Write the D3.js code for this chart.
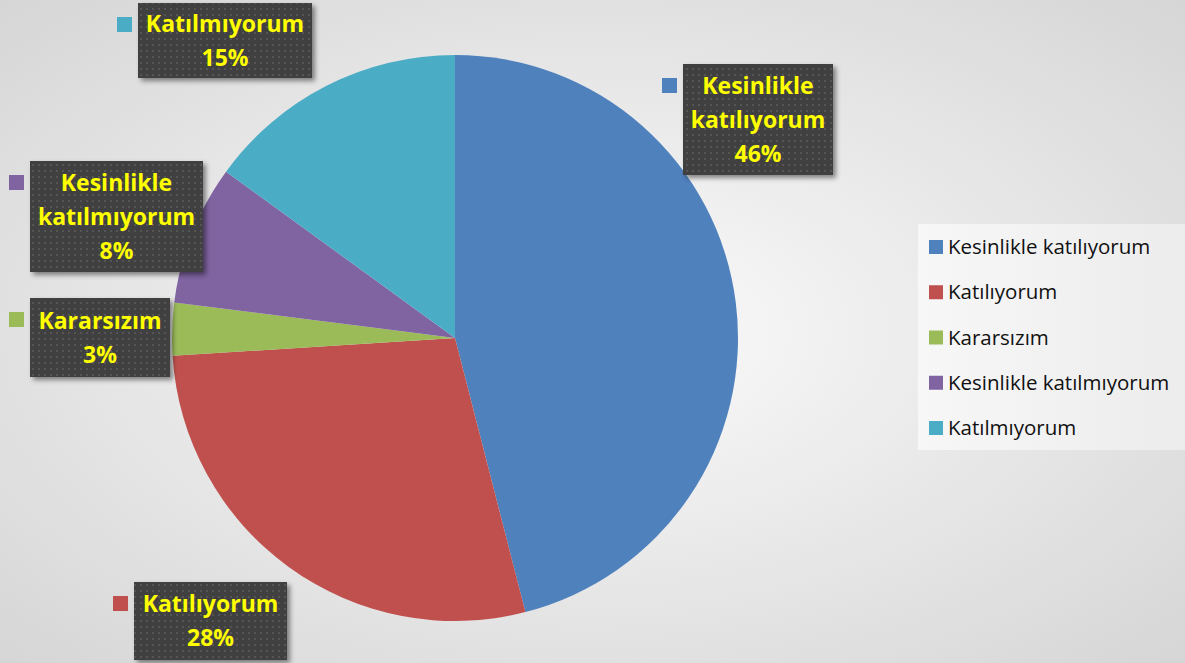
<!DOCTYPE html>
<html>
<head>
<meta charset="utf-8">
<script src="https://cdn.jsdelivr.net/npm/d3@7"></script>
<style>
  html,body{margin:0;padding:0;overflow:hidden;}
  svg{display:block;}
</style>
</head>
<body>
<svg id="chart" width="1185" height="663"></svg>
<script>
// ── data ──
const categories=["Kesinlikle katılıyorum","Katılıyorum","Kararsızım","Kesinlikle katılmıyorum","Katılmıyorum"];
const values=[46,28,3,8,15];
const labelLines=[["Kesinlikle","katılıyorum"],["Katılıyorum"],["Kararsızım"],["Kesinlikle","katılmıyorum"],["Katılmıyorum"]];
const colors=["#4F81BD","#C0504D","#9BBB59","#8064A2","#4BACC6"];

// ── layout (hand-placed label boxes, like the original) ──
const W=1185,H=663,cx=455,cy=338,R=283;
const boxes=[
  {x:683,y:64,w:150,h:111},
  {x:134,y:582,w:153,h:78},
  {x:30,y:298,w:140,h:79},
  {x:30,y:161,w:173,h:111},
  {x:138,y:3,w:174,h:75}
];
const FONT="'Open Sans', Lato, sans-serif";

const svg=d3.select("#chart");
const defs=svg.append("defs");
const bg=defs.append("radialGradient").attr("id","bg").attr("cx","50%").attr("cy","50%").attr("r","70%");
bg.append("stop").attr("offset","0%").attr("stop-color","#fbfbfb");
bg.append("stop").attr("offset","100%").attr("stop-color","#d6d6d6");
const pat=defs.append("pattern").attr("id","dots").attr("width",6).attr("height",6).attr("patternUnits","userSpaceOnUse");
pat.append("rect").attr("width",6).attr("height",6).attr("fill","#404040");
pat.append("rect").attr("x",2).attr("y",2).attr("width",2).attr("height",2).attr("fill","#555555");
const sh=defs.append("filter").attr("id","sh").attr("x","-10%").attr("y","-10%").attr("width","130%").attr("height","130%");
sh.append("feDropShadow").attr("dx",3).attr("dy",3).attr("stdDeviation",2.5).attr("flood-color","#000").attr("flood-opacity",0.45);
const lg=defs.append("linearGradient").attr("id","lg").attr("x1","0").attr("x2","1");
lg.append("stop").attr("offset","0%").attr("stop-color","#f7f7f7");
lg.append("stop").attr("offset","100%").attr("stop-color","#ececec");

svg.append("rect").attr("width",W).attr("height",H).attr("fill","url(#bg)");

// ── pie ──
const pie=d3.pie().sort(null).value(d=>d)(values);
const arc=d3.arc().innerRadius(0).outerRadius(R);
svg.append("g").attr("transform",`translate(${cx},${cy})`)
  .selectAll("path").data(pie).join("path")
  .attr("d",arc).attr("fill",(d,i)=>colors[i]);

// ── data labels ──
const lab=svg.append("g").selectAll("g").data(pie).join("g");
lab.append("rect").attr("x",(d,i)=>boxes[i].x).attr("y",(d,i)=>boxes[i].y)
  .attr("width",(d,i)=>boxes[i].w).attr("height",(d,i)=>boxes[i].h)
  .attr("fill","url(#dots)").attr("filter","url(#sh)");
lab.append("rect").attr("x",(d,i)=>boxes[i].x-21).attr("y",(d,i)=>boxes[i].y+14)
  .attr("width",15).attr("height",15).attr("fill",(d,i)=>colors[i]);
lab.each(function(d,i){
  const b=boxes[i],lines=[...labelLines[i],d.data+"%"];
  const lh=34,top=b.y+b.h/2-(lines.length-1)*lh/2;
  d3.select(this).append("text")
    .attr("font-family",FONT).attr("font-weight","bold")
    .attr("font-size",23).attr("fill","#FFFF00").attr("text-anchor","middle")
    .selectAll("tspan").data(lines).join("tspan")
    .attr("x",b.x+b.w/2).attr("y",(t,j)=>top+j*lh).attr("dy","0.35em").text(t=>t);
});

// ── legend ──
const leg=svg.append("g");
leg.append("rect").attr("x",918).attr("y",224).attr("width",267).attr("height",226).attr("fill","url(#lg)");
const y=d3.scalePoint().domain(categories).range([247,428]);
const li=leg.selectAll("g").data(categories).join("g").attr("transform",d=>`translate(929,${y(d)})`);
li.append("rect").attr("x",0).attr("y",-7).attr("width",14).attr("height",14).attr("fill",(d,i)=>colors[i]);
li.append("text").attr("x",19).attr("dy","0.35em")
  .attr("font-family",FONT).attr("font-size",20.5).attr("fill","#111").text(d=>d);
</script>
</body>
</html>
